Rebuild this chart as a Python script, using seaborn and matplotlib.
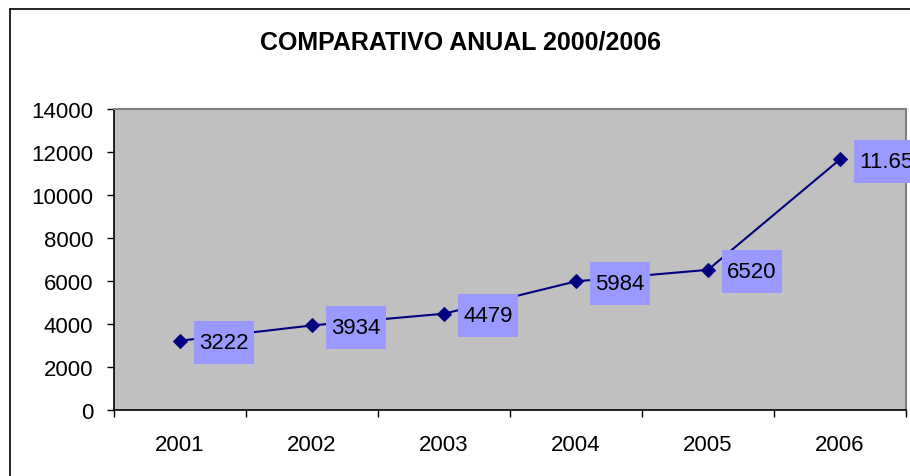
import matplotlib
matplotlib.use("Agg")
import matplotlib.pyplot as plt
import seaborn as sns
import pandas as pd
from matplotlib.lines import Line2D
from matplotlib.path import Path

years = ["2001", "2002", "2003", "2004", "2005", "2006"]
values = [3222, 3934, 4479, 5984, 6520, 11657]
labels = ["3222", "3934", "4479", "5984", "6520", "11.657"]
y_ticks = [0, 2000, 4000, 6000, 8000, 10000, 12000, 14000]

sns.set_theme(style="white")
plt.rcParams['font.family'] = ['Liberation Sans', 'DejaVu Sans']
plt.rcParams['text.color'] = 'black'
plt.rcParams['xtick.color'] = 'black'
plt.rcParams['ytick.color'] = 'black'
plt.rcParams['xtick.labelcolor'] = 'black'
plt.rcParams['ytick.labelcolor'] = 'black'

W, H = 910, 477
fig = plt.figure(figsize=(W / 100, H / 100), dpi=100)
ax = fig.add_axes([114 / W, (H - 411) / H, 792 / W, 301 / H])
ax.set_facecolor('#C0C0C0')

df = pd.DataFrame({"pos": list(range(len(years))), "val": values})
sns.lineplot(data=df, x="pos", y="val", ax=ax, color='#000080', marker='D',
             markersize=7, markeredgecolor='#000080', linewidth=1.5, zorder=3)


def label_box(x0, y0, width, height, mutation_size):
    px = 0.24 * mutation_size
    py = 0.5 * mutation_size
    xa, xb = x0 - px, x0 + width + px
    ya, yb = y0 - py, y0 + height + py
    return Path([(xa, ya), (xb, ya), (xb, yb), (xa, yb), (xa, ya)],
                [Path.MOVETO, Path.LINETO, Path.LINETO, Path.LINETO, Path.CLOSEPOLY])


for i, (v, lab) in enumerate(zip(values, labels)):
    ax.annotate(lab, xy=(i, v), xytext=(19, -2), textcoords='offset pixels',
                ha='left', va='center', fontsize=16, color='black', zorder=5,
                bbox=dict(boxstyle=label_box, fc='#9999FF', ec='none'),
                annotation_clip=False)

ax.set_xlim(-0.5, len(years) - 0.5)
ax.set_ylim(0, 14000)
ax.set_xticks(range(len(years)))
ax.set_xticklabels(years, fontsize=16)
ax.set_xticks([i - 0.5 for i in range(len(years) + 1)], minor=True)
ax.tick_params(axis='x', which='major', length=0, pad=17)
ax.tick_params(axis='x', which='minor', length=5, width=1, color='black', direction='out', bottom=True)
ax.set_yticks(y_ticks)
ax.set_yticklabels([str(t) for t in y_ticks], fontsize=16)
ax.tick_params(axis='y', length=5, width=1, color='black', direction='out', left=True, pad=10)
ax.set_xlabel("")
ax.set_ylabel("")

for s in ['top', 'right']:
    ax.spines[s].set_color('#808080')
    ax.spines[s].set_linewidth(1.5)
for s in ['left', 'bottom']:
    ax.spines[s].set_color('black')
    ax.spines[s].set_linewidth(1.2)

fig.text(460 / W, 1 - 43 / H, "COMPARATIVO ANUAL 2000/2006", ha='center', va='center',
         fontsize=18, fontweight='bold', color='black')

# chart border (left and top visible)
fig.add_artist(Line2D([10 / W, 10 / W], [0, 1 - 10 / H], transform=fig.transFigure, color='black', lw=1.2))
fig.add_artist(Line2D([10 / W, 1], [1 - 10 / H, 1 - 10 / H], transform=fig.transFigure, color='black', lw=1.2))

fig.savefig("out.png", dpi=100)
